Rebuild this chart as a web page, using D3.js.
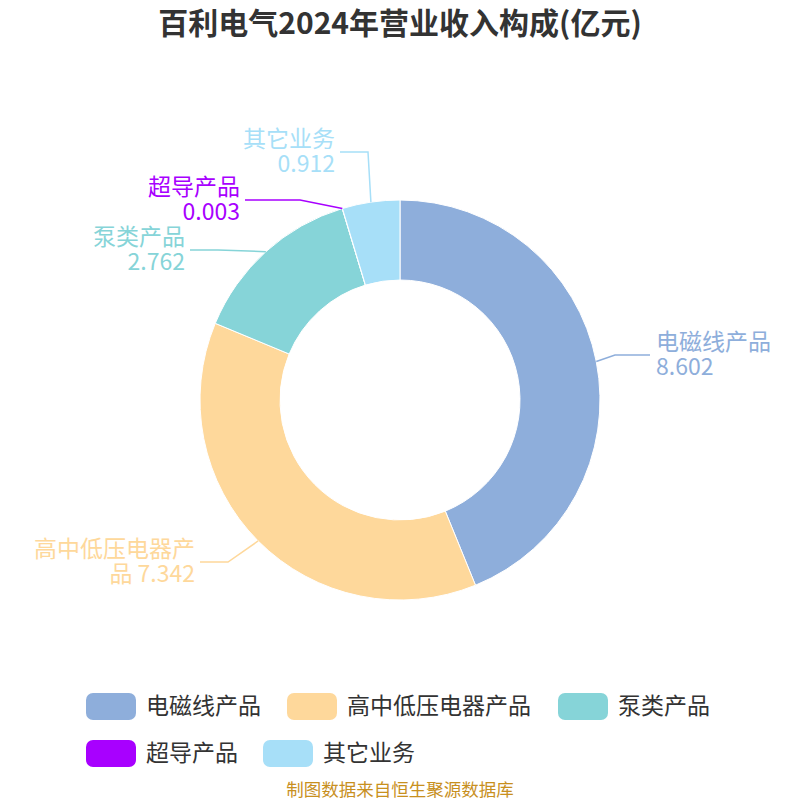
<!DOCTYPE html>
<html><head><meta charset="utf-8">
<script src="https://cdn.jsdelivr.net/npm/d3@7"></script>
<style>body{margin:0;background:#fff;font-family:"Noto Sans CJK SC","Noto Sans",sans-serif}</style>
</head><body><div id="chart"></div>
<script>
var title = "百利电气2024年营业收入构成(亿元)";
var categories = ["电磁线产品", "高中低压电器产品", "泵类产品", "超导产品", "其它业务"];
var values = [8.602, 7.342, 2.762, 0.003, 0.912];
var colors = ["#8eaedb", "#fed89b", "#86d4d8", "#a800ff", "#a7dff8"];
var source = "制图数据来自恒生聚源数据库";

var W = 800, H = 800, cx = 400, cy = 400, R = 200, r = 120;
var svg = d3.select("#chart").append("svg").attr("width", W).attr("height", H);

svg.append("text").attr("x", W / 2).attr("y", 34).attr("text-anchor", "middle")
  .attr("font-size", 30).attr("font-weight", "bold").attr("fill", "#333").text(title);

var data = categories.map(function (c, i) { return { name: c, value: values[i], color: colors[i] }; });
var pie = d3.pie().sort(null).value(function (d) { return d.value; });
var arcs = pie(data);
var arc = d3.arc().innerRadius(r).outerRadius(R);

var g = svg.append("g").attr("transform", "translate(" + cx + "," + cy + ")");
g.selectAll("path").data(arcs).enter().append("path")
  .attr("d", arc).attr("fill", function (d) { return d.data.color; })
  .attr("stroke", "#fff").attr("stroke-width", 1);

// label layout: end point of the leader line (x, y) relative to page
var labelEnds = [[650, 355], [200, 562], [190, 250], [245, 200], [340, 152]];
arcs.forEach(function (d, i) {
  var a = (d.startAngle + d.endAngle) / 2;
  var p1 = [cx + Math.sin(a) * R, cy - Math.cos(a) * R];
  var e = labelEnds[i];
  var right = e[0] > cx;
  var p2 = [right ? e[0] - 35 : e[0] + 28, e[1]];
  if (i === 4) p2 = [368, 152];
  if (i === 3) p2 = [300, 200];
  svg.append("polyline").attr("points", [p1, p2, e].map(function (p) { return p.join(","); }).join(" "))
    .attr("fill", "none").attr("stroke", d.data.color).attr("stroke-width", 1.5);
  var tx = right ? e[0] + 6 : e[0] - 5;
  var anchor = right ? "start" : "end";
  var l1 = d.data.name, l2 = String(d.data.value);
  if (l1.length > 7) { l2 = l1.slice(7) + " " + l2; l1 = l1.slice(0, 7); }
  var t = svg.append("text").attr("text-anchor", anchor).attr("font-size", 23).attr("fill", d.data.color);
  t.append("tspan").attr("x", tx).attr("y", e[1] - 5).text(l1);
  t.append("tspan").attr("x", tx).attr("y", e[1] + 20).text(l2);
});

// legend
var legendPos = [[86, 706], [287, 706], [558, 706], [86, 753], [263, 753]];
data.forEach(function (d, i) {
  var p = legendPos[i];
  svg.append("rect").attr("x", p[0]).attr("y", p[1] - 13).attr("width", 50).attr("height", 27)
    .attr("rx", 7).attr("fill", d.color);
  svg.append("text").attr("x", p[0] + 60).attr("y", p[1] + 8).attr("font-size", 23)
    .attr("fill", "#333").text(d.name);
});

svg.append("text").attr("x", W / 2).attr("y", 796).attr("text-anchor", "middle")
  .attr("font-size", 17.5).attr("fill", "#c8901e").text(source);
</script></body></html>
